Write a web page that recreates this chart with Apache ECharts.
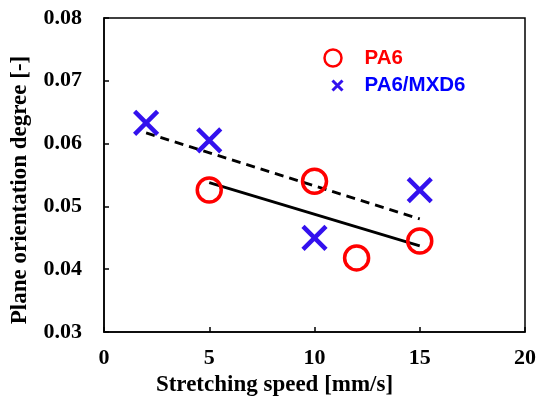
<!DOCTYPE html>
<html>
<head>
<meta charset="utf-8">
<script src="https://cdn.jsdelivr.net/npm/echarts@6/dist/echarts.min.js"></script>
<style>
  html, body { margin: 0; padding: 0; background: #fff; }
  #chart { width: 539px; height: 397px; }
</style>
</head>
<body>
<div id="chart"></div>
<script>
// values
const pa6Speed = [5, 10, 12, 15]
const pa6Degree = [0.0526, 0.0540, 0.0418, 0.0445]
const mxdSpeed = [2, 5, 10, 15]
const mxdDegree = [0.0633, 0.0605, 0.0450, 0.0526]
// trend line end points
const pa6TrendSpeed = [5, 15]
const pa6TrendDegree = [0.0538, 0.0437]
const mxdTrendSpeed = [2, 15]
const mxdTrendDegree = [0.0617, 0.0480]

const serif = '"Liberation Serif", "Times New Roman", serif'
const sans = '"Liberation Sans", Arial, sans-serif'
const red = '#ff0000'
const blue = '#3311ee'
const crossPath = 'path://M0,0L10,10M10,0L0,10'

const pairs = (xs, ys) => xs.map((x, i) => [x, ys[i]])

const chart = echarts.init(document.getElementById('chart'))
chart.setOption({
  animation: false,
  grid: {
    left: 104,
    right: 14,
    top: 18,
    bottom: 65,
    outerBoundsMode: 'none',
    show: true,
    borderColor: '#000',
    borderWidth: 1.5
  },
  legend: [
    {
      data: [{ name: 'PA6', icon: 'circle', itemStyle: { color: 'none', borderColor: red, borderWidth: 2.5, opacity: 1 } }],
      left: 317,
      top: 42,
      itemWidth: 17,
      itemHeight: 17,
      textStyle: { color: red, fontFamily: sans, fontWeight: 'bold', fontSize: 20.5, padding: [0, 0, 0, 18] }
    },
    {
      data: [{ name: 'PA6/MXD6', icon: crossPath, itemStyle: { color: 'none', borderColor: blue, borderWidth: 3, opacity: 1 } }],
      left: 325,
      top: 70,
      itemWidth: 10,
      itemHeight: 10,
      textStyle: { color: '#0000ff', fontFamily: sans, fontWeight: 'bold', fontSize: 20.5, padding: [0, 0, 0, 17] }
    }
  ],
  xAxis: {
    type: 'value',
    min: 0,
    max: 20,
    interval: 5,
    name: 'Stretching speed [mm/s]',
    nameLocation: 'middle',
    nameGap: 31,
    nameTextStyle: { fontFamily: serif, fontWeight: 'bold', fontSize: 23, color: '#000', padding: [0, 80, 0, 0] },
    axisLine: { lineStyle: { color: '#000', width: 1.5 } },
    axisTick: { inside: true, length: 5, lineStyle: { color: '#000', width: 1.5 } },
    axisLabel: { margin: 15, fontFamily: serif, fontWeight: 'bold', fontSize: 22, color: '#000' },
    splitLine: { show: false }
  },
  yAxis: {
    type: 'value',
    min: 0.03,
    max: 0.08,
    interval: 0.01,
    name: 'Plane orientation degree [-]',
    nameLocation: 'middle',
    nameGap: 72,
    nameTextStyle: { fontFamily: serif, fontWeight: 'bold', fontSize: 23, color: '#000', padding: [0, 30, 0, 0] },
    axisLine: { lineStyle: { color: '#000', width: 1.5 } },
    axisTick: { inside: true, length: 5, lineStyle: { color: '#000', width: 1.5 } },
    axisLabel: {
      margin: 22,
      fontFamily: serif,
      fontWeight: 'bold',
      fontSize: 22,
      color: '#000',
      formatter: v => v.toFixed(2)
    },
    splitLine: { show: false }
  },
  series: [
    {
      name: 'PA6',
      type: 'scatter',
      data: pairs(pa6Speed, pa6Degree),
      symbol: 'circle',
      symbolSize: 24,
      itemStyle: { color: 'none', borderColor: red, borderWidth: 3.5, opacity: 1 },
      z: 3
    },
    {
      name: 'PA6/MXD6',
      type: 'scatter',
      data: pairs(mxdSpeed, mxdDegree),
      symbol: crossPath,
      symbolSize: 23,
      itemStyle: { color: 'none', borderColor: blue, borderWidth: 4.5, opacity: 1 },
      z: 3
    },
    {
      type: 'line',
      data: pairs(pa6TrendSpeed, pa6TrendDegree),
      showSymbol: false,
      lineStyle: { color: '#000', width: 2.8 },
      z: 2
    },
    {
      type: 'line',
      data: pairs(mxdTrendSpeed, mxdTrendDegree),
      showSymbol: false,
      lineStyle: { color: '#000', width: 2.8, type: [9, 6] },
      z: 2
    }
  ]
})
</script>
</body>
</html>
